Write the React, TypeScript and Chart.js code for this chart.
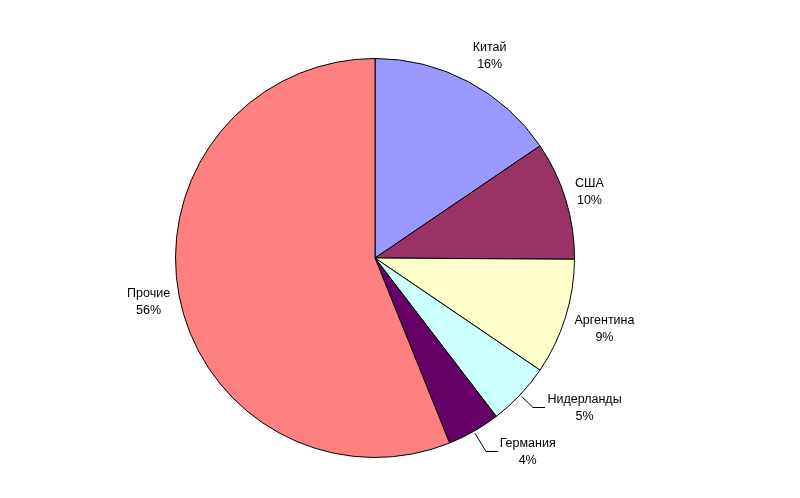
import React, { useEffect, useRef } from "react";
import { Chart, registerables } from "chart.js";

Chart.register(...registerables);

const categories = ["Китай", "США", "Аргентина", "Нидерланды", "Германия", "Прочие"];
const shares = [15.5, 9.6, 9.4, 5.1, 4.3, 56.1];
const colors = ["#9999FF", "#993366", "#FFFFCC", "#CCFFFF", "#660066", "#FF8080"];

// label placement: angle (deg, clockwise from top) and distance as a multiple of the radius
const labelPlacement = [
  { angle: 29.5, dist: 1.167, leader: false },
  { angle: 72.7, dist: 1.126, leader: false },
  { angle: 106.9, dist: 1.202, leader: false },
  { angle: 125.5, dist: 1.29, leader: true },
  { angle: 141.6, dist: 1.232, leader: true },
  { angle: 259.3, dist: 1.155, leader: false },
];

const labelPlugin = {
  id: "pieLabels",
  afterDraw(chart: any) {
    const ctx = chart.ctx;
    const meta = chart.getDatasetMeta(0);
    const data = chart.data.datasets[0].data as number[];
    const total = data.reduce((a, b) => a + b, 0);
    ctx.save();
    ctx.font = "12.5px 'Liberation Sans', Arial, sans-serif";
    ctx.fillStyle = "#000";
    ctx.textAlign = "center";
    ctx.textBaseline = "middle";
    meta.data.forEach((arc: any, i: number) => {
      const { x, y, outerRadius, startAngle, endAngle } = arc.getProps(
        ["x", "y", "outerRadius", "startAngle", "endAngle"],
        true
      );
      const p = labelPlacement[i];
      const a = (p.angle * Math.PI) / 180;
      const cx = x + Math.sin(a) * outerRadius * p.dist;
      const cy = y - Math.cos(a) * outerRadius * p.dist;
      const name = chart.data.labels[i] as string;
      const pct = Math.round((data[i] / total) * 100) + "%";
      ctx.fillText(name, cx, cy - 7.5);
      ctx.fillText(pct, cx, cy + 9.5);
      if (p.leader) {
        const mid = (startAngle + endAngle) / 2;
        const sx = x + Math.cos(mid) * (outerRadius + 2);
        const sy = y + Math.sin(mid) * (outerRadius + 2);
        const w = ctx.measureText(name).width;
        const left = Math.round(cx - w / 2) - 2;
        const ly = Math.round(cy) + 0.5;
        ctx.beginPath();
        ctx.strokeStyle = "#000";
        ctx.lineWidth = 1;
        ctx.moveTo(sx, sy);
        ctx.lineTo(left - 12, ly);
        ctx.lineTo(left, ly);
        ctx.stroke();
      }
    });
    ctx.restore();
  },
};

export default function App() {
  const ref = useRef<HTMLCanvasElement>(null);
  useEffect(() => {
    if (!ref.current) return;
    const chart = new Chart(ref.current, {
      type: "pie",
      data: {
        labels: categories,
        datasets: [
          {
            data: shares,
            backgroundColor: colors,
            borderColor: "#000",
            borderWidth: 1,
          },
        ],
      },
      options: {
        animation: false,
        responsive: false,
        layout: { padding: { left: 175, right: 225, top: 58, bottom: 40 } },
        plugins: {
          legend: { display: false },
          tooltip: { enabled: false },
        },
      },
      plugins: [labelPlugin],
    });
    return () => chart.destroy();
  }, []);
  return (
    <div style={{ position: "fixed", left: 0, top: 0, width: 800, height: 498, background: "#fff" }}>
      <canvas ref={ref} width={800} height={498} style={{ width: 800, height: 498 }} />
    </div>
  );
}
